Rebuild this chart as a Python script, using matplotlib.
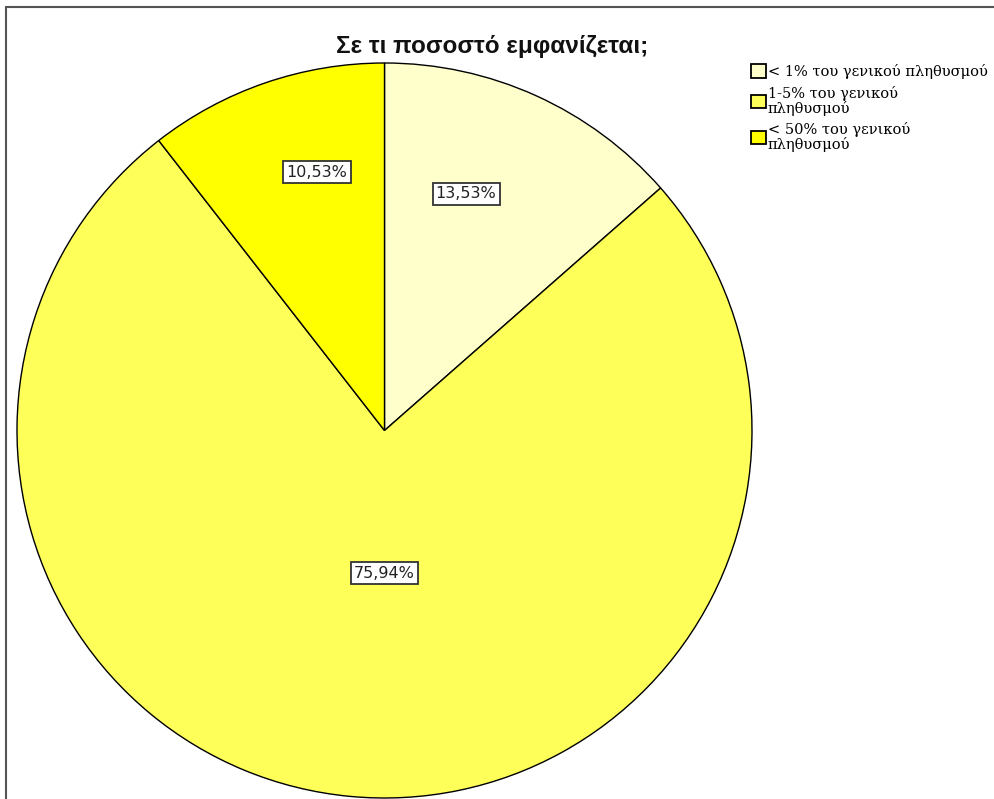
import matplotlib.pyplot as plt
from matplotlib.patches import Patch, Rectangle

categories = ['< 1% του γενικού πληθυσμού',
              '1-5% του γενικού\nπληθυσμού',
              '< 50% του γενικού\nπληθυσμού']
shares = [13.53, 75.94, 10.53]
colors = ['#FFFFCC', '#FFFF5A', '#FFFF00']
# label spots in axis units, pie radius = 1
label_pos = [(0.222, 0.644), (0.0, -0.388), (-0.184, 0.703)]

fig = plt.figure(figsize=(9.95, 7.99), dpi=100)
fig.patch.set_facecolor('white')

ax = fig.add_axes([17 / 995, 1 / 799, 735 / 995, 735 / 799])
wedges, _ = ax.pie(shares, colors=colors, startangle=90, counterclock=False,
                   radius=1, wedgeprops=dict(edgecolor='black', linewidth=1.0))
ax.set_xlim(-1, 1)
ax.set_ylim(-1, 1)
ax.set_aspect('equal')
ax.axis('off')

for val, (x, y) in zip(shares, label_pos):
    txt = f'{val:.2f}%'.replace('.', ',')
    ax.text(x, y, txt, ha='center', va='center', fontsize=11.5,
            family='DejaVu Sans', color='#222222',
            bbox=dict(boxstyle='square,pad=0.2', facecolor='white',
                      edgecolor='#333333', linewidth=1.3))

fig.text(492 / 995, 1 - 46 / 799, 'Σε τι ποσοστό εμφανίζεται;',
         ha='center', va='center', fontsize=17.5, fontweight='bold',
         family='Liberation Sans', color='#111111')

handles = [Patch(facecolor=c, edgecolor='black', linewidth=1.3) for c in colors]
leg = fig.legend(handles, categories, loc='upper left',
                 bbox_to_anchor=(751 / 995, 1 - 64 / 799),
                 frameon=False, prop=dict(family='DejaVu Serif', size=10.5),
                 handlelength=1.0, handleheight=1.0, handletextpad=0.15,
                 labelspacing=0.45, borderpad=0.0, borderaxespad=0.0)
for t in leg.get_texts():
    t.set_linespacing(1.0)

# outer frame, only top and left edges fall inside the image
fig.patches.append(Rectangle((6 / 995, -0.1), 1.2, 1 - 7 / 799 + 0.1,
                             transform=fig.transFigure, fill=False,
                             edgecolor='#555555', linewidth=1.5))

fig.savefig('out.png', dpi=100)
